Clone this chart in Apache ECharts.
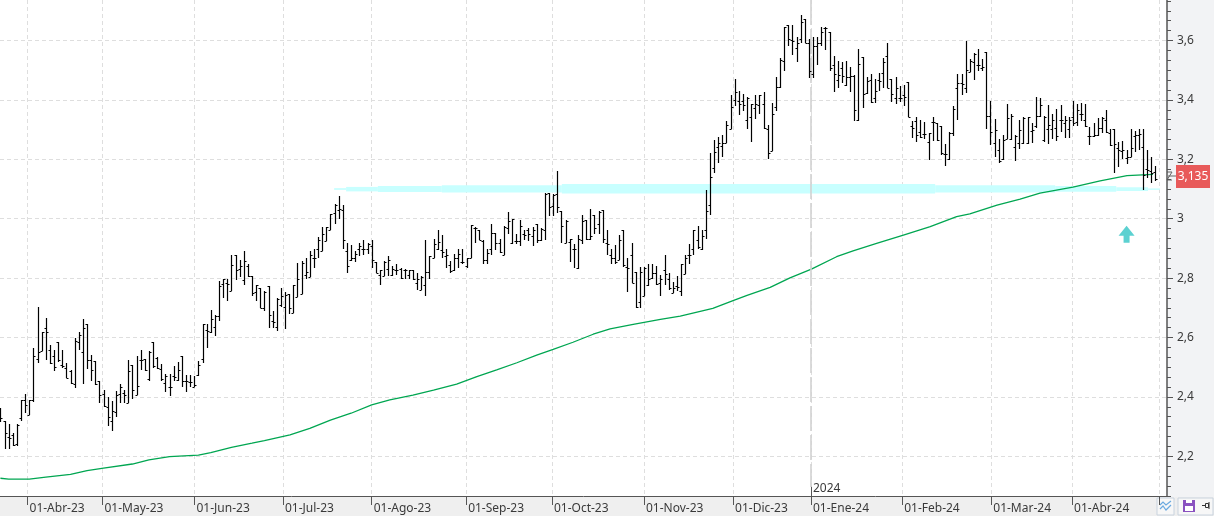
<!DOCTYPE html>
<html>
<head>
<meta charset="utf-8">
<title>Chart</title>
<style>
  html, body { margin: 0; padding: 0; background: #f1f2f4; }
  #chart { width: 1214px; height: 516px; }
</style>
</head>
<body>
<div id="chart"></div>
<script src="https://cdn.jsdelivr.net/npm/echarts@6/dist/echarts.min.js"></script>
<script>
const barOpen = [
  2.354,2.319,2.266,2.272,2.241,2.329,2.39,2.339,2.388,2.529,
  2.555,2.631,2.559,2.539,2.586,2.508,2.498,2.487,2.442,2.585,
  2.551,2.644,2.523,2.52,2.455,2.41,2.365,2.32,2.35,2.41,
  2.412,2.38,2.506,2.408,2.523,2.527,2.461,2.586,2.532,2.495,
  2.446,2.433,2.472,2.458,2.537,2.455,2.45,2.433,2.475,2.529,
  2.625,2.617,2.634,2.672,2.779,2.782,2.756,2.879,2.829,2.793,
  2.841,2.806,2.754,2.765,2.7,2.773,2.655,2.634,2.709,2.703,
  2.746,2.681,2.737,2.745,2.81,2.804,2.869,2.899,2.89,2.924,
  2.961,3.02,3.03,3.03,2.89,2.862,2.866,2.899,2.899,2.899,
  2.907,2.854,2.81,2.806,2.829,2.81,2.826,2.832,2.826,2.81,
  2.826,2.782,2.761,2.778,2.819,2.868,2.899,2.896,2.873,2.843,
  2.826,2.866,2.854,2.84,2.868,2.97,2.961,2.925,2.86,2.899,
  2.953,2.918,2.879,2.97,2.918,2.925,2.925,2.947,2.963,2.943,
  2.981,2.929,2.961,3.086,3.043,3.084,3.025,2.918,2.92,2.899,
  2.835,2.927,2.994,2.933,3.013,2.983,3.03,2.918,2.879,2.866,
  2.86,2.961,2.838,2.879,2.819,2.72,2.74,2.776,2.801,2.817,
  2.782,2.826,2.798,2.75,2.773,2.758,2.815,2.877,2.899,2.929,
  2.899,2.961,3.045,3.17,3.243,3.246,3.254,3.301,3.4,3.398,
  3.398,3.332,3.344,3.372,3.382,3.386,3.301,3.229,3.375,3.445,
  3.53,3.652,3.602,3.574,3.604,3.672,3.593,3.486,3.58,3.591,
  3.642,3.63,3.516,3.467,3.507,3.45,3.476,3.481,3.332,3.544,
  3.422,3.467,3.406,3.467,3.492,3.548,3.47,3.406,3.406,3.417,
  3.459,3.312,3.33,3.293,3.285,3.259,3.325,3.321,3.312,3.217,
  3.2,3.29,3.439,3.458,3.44,3.495,3.528,3.517,3.506,3.56,
  3.346,3.254,3.231,3.2,3.27,3.27,3.242,3.254,3.254,3.254,
  3.295,3.313,3.346,3.265,3.302,3.302,3.304,3.332,3.321,3.301,
  3.341,3.327,3.354,3.332,3.278,3.278,3.282,3.304,3.332,3.289,
  3.302,3.237,3.229,3.203,3.209,3.278,3.282,3.242,3.166,3.162,3.158
]
const barHigh = [
  2.364,2.32,2.308,2.278,2.308,2.39,2.41,2.39,2.566,2.702,
  2.619,2.664,2.576,2.557,2.586,2.559,2.515,2.489,2.597,2.619,
  2.662,2.644,2.54,2.52,2.455,2.424,2.399,2.385,2.421,2.444,
  2.424,2.525,2.506,2.537,2.557,2.529,2.555,2.586,2.534,2.51,
  2.476,2.476,2.505,2.518,2.537,2.475,2.475,2.472,2.52,2.644,
  2.644,2.692,2.675,2.789,2.798,2.798,2.879,2.879,2.86,2.89,
  2.849,2.806,2.778,2.765,2.756,2.773,2.69,2.733,2.765,2.754,
  2.746,2.778,2.852,2.857,2.869,2.89,2.899,2.938,2.972,2.972,
  3.017,3.05,3.078,3.045,2.919,2.91,2.89,2.918,2.929,2.918,
  2.927,2.854,2.826,2.857,2.873,2.84,2.849,2.835,2.829,2.826,
  2.826,2.817,2.806,2.929,2.873,2.933,2.961,2.944,2.897,2.857,
  2.88,2.897,2.897,2.869,2.98,2.972,2.961,2.927,2.899,2.981,
  2.953,2.933,2.974,3.021,3.0,2.95,2.994,2.961,2.97,2.972,
  2.981,2.97,3.086,3.087,3.084,3.159,3.025,2.997,2.933,2.916,
  2.944,3.013,2.994,3.034,3.013,3.025,3.03,2.961,2.899,2.91,
  2.946,2.961,2.866,2.919,2.819,2.838,2.838,2.849,2.849,2.84,
  2.81,2.879,2.817,2.787,2.806,2.849,2.879,2.916,2.963,2.974,
  2.961,3.097,3.22,3.265,3.274,3.282,3.33,3.417,3.47,3.43,
  3.419,3.409,3.385,3.417,3.417,3.426,3.316,3.391,3.476,3.54,
  3.645,3.653,3.652,3.611,3.687,3.672,3.604,3.611,3.611,3.644,
  3.645,3.63,3.549,3.531,3.529,3.531,3.51,3.484,3.571,3.544,
  3.476,3.486,3.47,3.49,3.54,3.591,3.47,3.476,3.447,3.45,
  3.459,3.33,3.341,3.332,3.325,3.29,3.341,3.321,3.312,3.25,
  3.291,3.38,3.487,3.487,3.6,3.539,3.559,3.573,3.539,3.56,
  3.396,3.335,3.27,3.282,3.386,3.352,3.282,3.332,3.341,3.341,
  3.323,3.41,3.408,3.346,3.383,3.352,3.371,3.383,3.346,3.341,
  3.397,3.386,3.388,3.386,3.31,3.321,3.34,3.341,3.366,3.302,
  3.302,3.259,3.261,3.231,3.302,3.296,3.302,3.302,3.233,3.207,3.177
]
const barLow = [
  2.314,2.226,2.226,2.235,2.233,2.318,2.347,2.339,2.382,2.514,
  2.555,2.523,2.51,2.487,2.518,2.497,2.464,2.444,2.429,2.559,
  2.442,2.495,2.453,2.44,2.379,2.365,2.303,2.286,2.331,2.379,
  2.379,2.379,2.392,2.408,2.489,2.487,2.452,2.497,2.495,2.453,
  2.418,2.402,2.452,2.453,2.433,2.418,2.433,2.433,2.472,2.514,
  2.565,2.616,2.606,2.655,2.733,2.723,2.756,2.793,2.804,2.776,
  2.804,2.74,2.723,2.7,2.69,2.633,2.633,2.622,2.703,2.628,
  2.679,2.681,2.735,2.745,2.798,2.804,2.835,2.869,2.89,2.924,
  2.961,2.983,3.0,2.899,2.817,2.857,2.854,2.875,2.877,2.88,
  2.835,2.817,2.776,2.806,2.807,2.807,2.81,2.798,2.796,2.796,
  2.793,2.761,2.761,2.739,2.798,2.868,2.896,2.866,2.835,2.817,
  2.824,2.835,2.849,2.835,2.868,2.918,2.927,2.847,2.847,2.877,
  2.896,2.885,2.877,2.947,2.916,2.916,2.907,2.929,2.925,2.907,
  2.918,2.925,2.929,3.009,3.009,3.019,2.918,2.918,2.854,2.835,
  2.829,2.916,2.927,2.929,2.947,2.947,2.918,2.877,2.849,2.847,
  2.86,2.838,2.754,2.784,2.701,2.701,2.74,2.774,2.798,2.778,
  2.74,2.776,2.761,2.75,2.758,2.74,2.815,2.849,2.877,2.899,
  2.896,2.933,3.011,3.155,3.186,3.209,3.254,3.301,3.38,3.349,
  3.361,3.302,3.259,3.335,3.353,3.301,3.2,3.229,3.364,3.439,
  3.499,3.583,3.552,3.526,3.591,3.591,3.475,3.475,3.518,3.58,
  3.569,3.499,3.428,3.439,3.458,3.448,3.428,3.33,3.33,3.374,
  3.419,3.389,3.389,3.431,3.439,3.439,3.394,3.386,3.394,3.38,
  3.341,3.273,3.259,3.273,3.267,3.198,3.263,3.263,3.214,3.178,
  3.198,3.28,3.334,3.416,3.424,3.495,3.467,3.498,3.498,3.302,
  3.248,3.209,3.189,3.198,3.268,3.265,3.195,3.235,3.251,3.251,
  3.254,3.304,3.341,3.259,3.25,3.27,3.263,3.293,3.273,3.273,
  3.313,3.313,3.33,3.31,3.248,3.274,3.278,3.287,3.287,3.246,
  3.155,3.173,3.2,3.184,3.209,3.226,3.233,3.097,3.138,3.119,3.128
]
const barClose = [
  2.328,2.277,2.262,2.238,2.306,2.39,2.374,2.39,2.539,2.551,
  2.619,2.62,2.515,2.5,2.525,2.503,2.464,2.446,2.588,2.608,
  2.631,2.525,2.489,2.442,2.405,2.369,2.333,2.351,2.405,2.433,
  2.407,2.487,2.424,2.436,2.525,2.489,2.551,2.503,2.498,2.461,
  2.472,2.435,2.467,2.489,2.455,2.452,2.45,2.441,2.506,2.644,
  2.623,2.661,2.672,2.775,2.797,2.779,2.845,2.826,2.84,2.857,
  2.806,2.75,2.778,2.701,2.754,2.675,2.653,2.731,2.739,2.742,
  2.701,2.778,2.798,2.852,2.821,2.877,2.869,2.929,2.95,2.972,
  3.015,3.045,3.034,2.929,2.84,2.866,2.88,2.907,2.899,2.916,
  2.86,2.817,2.826,2.854,2.86,2.829,2.826,2.8,2.826,2.826,
  2.798,2.798,2.804,2.819,2.873,2.916,2.922,2.888,2.877,2.824,
  2.866,2.88,2.854,2.868,2.98,2.97,2.929,2.86,2.886,2.953,
  2.918,2.888,2.972,2.992,3.0,2.925,2.974,2.944,2.95,2.963,
  2.929,2.966,3.084,3.041,3.08,3.041,2.974,2.991,2.933,2.897,
  2.933,2.992,2.933,2.941,2.97,3.022,2.933,2.914,2.866,2.854,
  2.929,2.845,2.835,2.784,2.703,2.821,2.835,2.798,2.817,2.78,
  2.796,2.815,2.765,2.765,2.77,2.849,2.866,2.877,2.961,2.905,
  2.941,3.025,3.14,3.226,3.254,3.254,3.315,3.375,3.426,3.385,
  3.382,3.406,3.385,3.386,3.417,3.304,3.22,3.352,3.445,3.533,
  3.645,3.604,3.597,3.593,3.662,3.593,3.499,3.58,3.593,3.628,
  3.642,3.507,3.488,3.484,3.479,3.476,3.479,3.366,3.521,3.419,
  3.462,3.394,3.431,3.462,3.526,3.439,3.419,3.439,3.406,3.411,
  3.341,3.304,3.282,3.276,3.285,3.288,3.325,3.265,3.22,3.217,
  3.29,3.37,3.458,3.455,3.5,3.532,3.554,3.517,3.511,3.346,
  3.293,3.298,3.195,3.265,3.338,3.346,3.278,3.298,3.338,3.341,
  3.298,3.346,3.382,3.341,3.317,3.332,3.278,3.334,3.334,3.334,
  3.321,3.366,3.354,3.312,3.278,3.282,3.304,3.338,3.293,3.248,
  3.25,3.231,3.231,3.209,3.237,3.282,3.285,3.147,3.164,3.153,3.135
]

// moving average
const maBar = [0,2,7,11,17,21,25,32,36,41,48,51,56,61,64,70.2,75,80,85,90,94.4,100,105,110.6,115.5,120.3,125.2,130,134,138.8,143.7,147.8,153.4,160,164.8,172.7,177.6,181,186.6,189,191.4,196.6,202.7,206.7,212.4,218.9,225.4,231.8,235,241.6,247.2,252,260,266.6,273.1,279.4]
const maValue = [2.126,2.123,2.123,2.13,2.139,2.152,2.16,2.174,2.188,2.199,2.204,2.212,2.23,2.244,2.253,2.272,2.294,2.322,2.345,2.373,2.39,2.406,2.423,2.443,2.468,2.491,2.515,2.541,2.56,2.584,2.611,2.629,2.644,2.661,2.672,2.698,2.724,2.742,2.769,2.785,2.801,2.83,2.872,2.892,2.917,2.945,2.973,3.007,3.016,3.046,3.066,3.086,3.106,3.127,3.145,3.149]

// support zone, one block per thickness step
const zoneFrom = [80.9,83.8,91.5,107,136.1,226.6,255.7,270.5,278.2]
const zoneTo = [83.8,91.5,107,136.1,226.6,255.7,270.5,278.2,281.1]
const zoneLow = [3.097,3.092,3.09,3.088,3.085,3.088,3.091,3.093,3.097]
const zoneHigh = [3.103,3.107,3.11,3.113,3.117,3.113,3.11,3.106,3.102]

const monthBars = [6.57,24.75,47.05,68.5,90,112.9,133.7,156,177.6,196.5,218.6,240.2,259.8,281]
const monthLabels = ['01-Abr-23','01-May-23','01-Jun-23','01-Jul-23','01-Ago-23','01-Sep-23','01-Oct-23','01-Nov-23','01-Dic-23','01-Ene-24','01-Feb-24','01-Mar-24','01-Abr-24','']
const priceTicks = [2.2,2.4,2.6,2.8,3,3.2,3.4,3.6]
const priceLabels = ['2,2','2,4','2,6','2,8','3','3,2','3,4','3,6']
const yearBar = 196.5
const yearTickTop = 2.097
const arrowBar = 273
const arrowPrice = 2.948

const yMin = 2.0663
const yMax = 3.7364
const xMin = -0.1
const xMax = 282.8

// small ticks on the price axis, six to a 0.2 step
const minorTicks = []
for (let p = 62; p < 113; p++) {
  const v = p / 30
  if (v > yMin && v < yMax && p % 6 !== 0) minorTicks.push(v)
}

const fontFamily = '"Noto Sans", sans-serif'
const textColor = '#3a3a3a'

const chart = echarts.init(document.getElementById('chart'))

function renderBar(params, api) {
  const i = api.value(0)
  const o = api.coord([i, api.value(1)])
  const h = api.coord([i, api.value(2)])
  const l = api.coord([i, api.value(3)])
  const c = api.coord([i, api.value(4)])
  const x = Math.round(o[0]) + 0.5
  const seg = (x1, y1, x2, y2, w) => ({
    type: 'line',
    shape: { x1, y1, x2, y2 },
    style: { stroke: '#000', lineWidth: w, fill: null }
  })
  return {
    type: 'group',
    children: [
      seg(x, Math.round(h[1]), x, Math.round(l[1]), 1.2),
      seg(x - 2, Math.round(o[1]) + 0.5, x, Math.round(o[1]) + 0.5, 1),
      seg(x, Math.round(c[1]) + 0.5, x + 2, Math.round(c[1]) + 0.5, 1)
    ]
  }
}

function renderZone(params, api) {
  const a = api.coord([api.value(0), api.value(3)])
  const b = api.coord([api.value(1), api.value(2)])
  return {
    type: 'rect',
    shape: { x: a[0], y: a[1], width: b[0] - a[0], height: b[1] - a[1] },
    style: { fill: '#c8ffff' }
  }
}

const option = {
  animation: false,
  backgroundColor: '#f2f3f5',
  textStyle: { fontFamily },
  grid: { left: 0, top: 0, width: 1167, height: 496, show: true, backgroundColor: '#fff', borderWidth: 0 },
  xAxis: {
    type: 'value',
    min: xMin,
    max: xMax,
    axisLine: { show: true, onZero: false, lineStyle: { color: '#555', width: 1 } },
    axisTick: { show: true, customValues: monthBars, length: 9, lineStyle: { color: '#555' } },
    axisLabel: {
      customValues: monthBars,
      margin: 7,
      align: 'left',
      padding: [0, 0, 0, 2],
      color: textColor,
      fontSize: 12,
      fontFamily,
      formatter: (v) => monthLabels[monthBars.indexOf(v)] || ''
    },
    splitLine: { show: true, lineStyle: { color: '#dedede', type: [4, 3], width: 1 } }
  },
  yAxis: [
    {
      type: 'value',
      position: 'right',
      min: yMin,
      max: yMax,
      axisLine: { show: true, onZero: false, lineStyle: { color: '#555', width: 1.5 } },
      axisTick: { show: true, customValues: priceTicks, length: 6, lineStyle: { color: '#555' } },
      axisLabel: {
        customValues: priceTicks,
        margin: 10,
        padding: [4, 0, 0, 0],
        color: textColor,
        fontSize: 12,
        fontFamily,
        formatter: (v) => priceLabels[priceTicks.indexOf(v)] || ''
      },
      splitLine: { show: true, lineStyle: { color: '#dedede', type: [4, 3], width: 1 } }
    },
    {
      // minor ticks: second axis moved over to the right edge
      type: 'value',
      position: 'left',
      offset: -1167,
      min: yMin,
      max: yMax,
      axisLine: { show: false },
      axisTick: { show: true, inside: true, customValues: minorTicks, length: 4, lineStyle: { color: '#555' } },
      axisLabel: { show: false },
      splitLine: { show: false }
    }
  ],
  series: [
    {
      type: 'custom',
      renderItem: renderZone,
      encode: { x: [0, 1], y: [2, 3] },
      data: zoneFrom.map((v, k) => [v, zoneTo[k], zoneLow[k], zoneHigh[k]]),
      z: 2,
      silent: true
    },
    {
      type: 'line',
      data: [],
      markLine: {
        silent: true,
        symbol: 'none',
        animation: false,
        label: { show: false },
        data: [
          [
            { coord: [yearBar, yMax], lineStyle: { color: '#d2d2d2', width: 1.6, type: [25, 4] } },
            { coord: [yearBar, yearTickTop] }
          ],
          [
            { coord: [yearBar, yearTickTop], lineStyle: { color: '#555', width: 1, type: 'solid' } },
            { coord: [yearBar, yMin] }
          ]
        ]
      },
      z: 3
    },
    {
      type: 'line',
      data: maBar.map((v, k) => [v, maValue[k]]),
      showSymbol: false,
      symbol: 'none',
      lineStyle: { color: '#00a651', width: 1.3 },
      z: 4,
      silent: true
    },
    {
      type: 'custom',
      renderItem: renderBar,
      encode: { x: 0, y: [1, 2, 3, 4] },
      data: barOpen.map((v, k) => [k, v, barHigh[k], barLow[k], barClose[k]]),
      z: 5,
      silent: true
    },
    {
      type: 'scatter',
      data: [[arrowBar, arrowPrice]],
      symbol: 'path://M8 0 L16 10 L11 10 L11 17 L5 17 L5 10 L0 10 Z',
      symbolSize: [16, 17],
      itemStyle: { color: '#33c6c6' },
      z: 6,
      silent: true
    }
  ],
  graphic: [
    { type: 'rect', shape: { x: 0, y: 497, width: 1214, height: 19 }, style: { fill: '#efefef' }, z: -1 },
    { type: 'text', x: 813, y: 483, style: { text: '2024', fill: textColor, font: '12px ' + fontFamily } },
    // last price badge
    { type: 'rect', shape: { x: 1176, y: 165, width: 34, height: 23 }, style: { fill: '#e85a5a' } },
    { type: 'text', x: 1193, y: 176.5, style: { text: '3,135', fill: '#fff', font: '12px ' + fontFamily, align: 'center', verticalAlign: 'middle' } },
    { type: 'polyline', shape: { points: [[1167, 172], [1172, 172], [1167, 180], [1172, 180]] }, style: { stroke: '#666', fill: null, lineWidth: 1 } },
    { type: 'line', shape: { x1: 1168, y1: 176, x2: 1176, y2: 176 }, style: { stroke: '#666', lineWidth: 1 } },
    // bottom right buttons
    { type: 'rect', shape: { x: 1157, y: 498, width: 17, height: 17 }, style: { fill: '#f7f7f7', stroke: '#c9d3de' } },
    { type: 'polyline', shape: { points: [[1160, 505], [1163, 502], [1166, 505], [1171, 501]] }, style: { stroke: '#6aa9e0', fill: null, lineWidth: 1.2 } },
    { type: 'polyline', shape: { points: [[1160, 509], [1163, 506], [1166, 510], [1171, 505]] }, style: { stroke: '#6aa9e0', fill: null, lineWidth: 1.2 } },
    { type: 'rect', shape: { x: 1178, y: 498, width: 35, height: 17 }, style: { fill: '#f7f7f7', stroke: '#c9d3de' } },
    { type: 'rect', shape: { x: 1183, y: 500, width: 12, height: 12 }, style: { fill: '#8a52c0' } },
    { type: 'rect', shape: { x: 1186, y: 500, width: 6, height: 3 }, style: { fill: '#fff' } },
    { type: 'rect', shape: { x: 1185, y: 506, width: 8, height: 5 }, style: { fill: '#fff' } },
    { type: 'rect', shape: { x: 1205.5, y: 503.5, width: 3, height: 4 }, style: { fill: 'none', stroke: '#333' } },
    { type: 'line', shape: { x1: 1202, y1: 505.5, x2: 1205, y2: 505.5 }, style: { stroke: '#333' } },
    { type: 'line', shape: { x1: 1209, y1: 502, x2: 1209, y2: 509 }, style: { stroke: '#333' } }
  ]
}

chart.setOption(option)
</script>
</body>
</html>
